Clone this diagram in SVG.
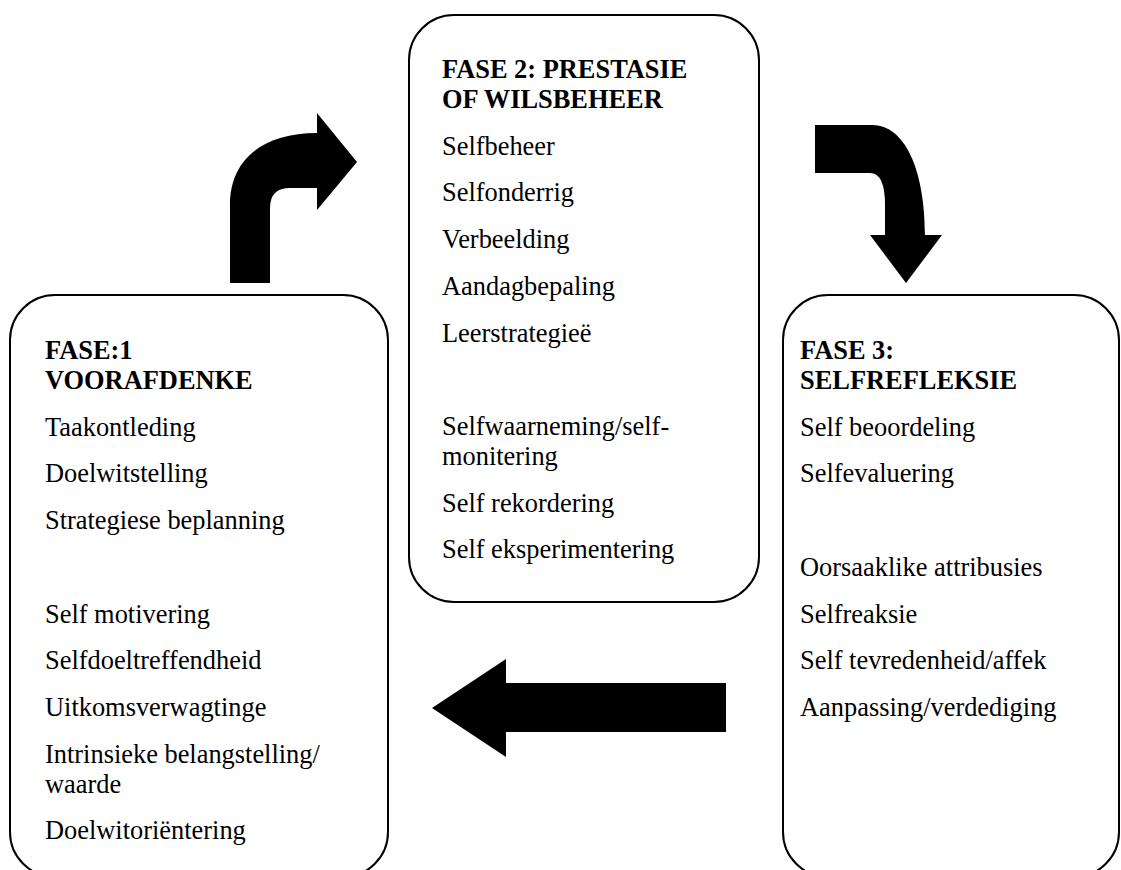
<svg xmlns="http://www.w3.org/2000/svg" width="1121" height="870" viewBox="0 0 1121 870">
  <style>
    .box { fill: #ffffff; stroke: #000000; stroke-width: 2; }
    .arrow { fill: #000000; stroke: none; }
    text { font-family: "Liberation Serif", "Times New Roman", serif; font-size: 26.4px; fill: #000000; }
    .title { font-weight: bold; }
  </style>
  <rect width="1121" height="870" fill="#ffffff"/>

  <!-- Block arrows linking the three phases -->
  <g id="connectors">
    <path class="arrow" d="M230,283 V205 C230,160 262,133 317,133 V113 L357,162 L317,210 V188 H290 Q270,188 270,208 V283 Z"/>
    <path class="arrow" d="M815,125 H872 C905,125 925,170 925,235 H942 L906,283 L870,235 H885 V205 Q885,173 870,173 H815 Z"/>
    <path class="arrow" d="M726,683 H506 V659 L432,708 L506,757 V732 H726 Z"/>
  </g>

  <!-- Phase 1 -->
  <g id="fase1">
    <rect class="box" x="10" y="295" width="378" height="582" rx="45" ry="45"/>
    <text class="title" x="45" y="359">FASE:1</text>
    <text class="title" x="45" y="389">VOORAFDENKE</text>
    <text x="45" y="435.7">Taakontleding</text>
    <text x="45" y="482.4">Doelwitstelling</text>
    <text x="45" y="529.1">Strategiese beplanning</text>
    <text x="45" y="622.5">Self motivering</text>
    <text x="45" y="669.2">Selfdoeltreffendheid</text>
    <text x="45" y="715.9">Uitkomsverwagtinge</text>
    <text x="45" y="762.6">Intrinsieke belangstelling/</text>
    <text x="45" y="792.6">waarde</text>
    <text x="45" y="839.3">Doelwitoriëntering</text>
  </g>

  <!-- Phase 2 -->
  <g id="fase2">
    <rect class="box" x="409" y="15" width="350" height="587" rx="45" ry="45"/>
    <text class="title" x="442" y="78">FASE 2: PRESTASIE</text>
    <text class="title" x="442" y="108">OF WILSBEHEER</text>
    <text x="442" y="154.7">Selfbeheer</text>
    <text x="442" y="201.4">Selfonderrig</text>
    <text x="442" y="248.1">Verbeelding</text>
    <text x="442" y="294.8">Aandagbepaling</text>
    <text x="442" y="341.5">Leerstrategieë</text>
    <text x="442" y="434.9">Selfwaarneming/self-</text>
    <text x="442" y="464.9">monitering</text>
    <text x="442" y="511.6">Self rekordering</text>
    <text x="442" y="558.3">Self eksperimentering</text>
  </g>

  <!-- Phase 3 -->
  <g id="fase3">
    <rect class="box" x="783" y="295" width="336" height="582" rx="45" ry="45"/>
    <text class="title" x="800" y="359">FASE 3:</text>
    <text class="title" x="800" y="389">SELFREFLEKSIE</text>
    <text x="800" y="435.7">Self beoordeling</text>
    <text x="800" y="482.4">Selfevaluering</text>
    <text x="800" y="575.8">Oorsaaklike attribusies</text>
    <text x="800" y="622.5">Selfreaksie</text>
    <text x="800" y="669.2">Self tevredenheid/affek</text>
    <text x="800" y="715.9">Aanpassing/verdediging</text>
  </g>
</svg>
